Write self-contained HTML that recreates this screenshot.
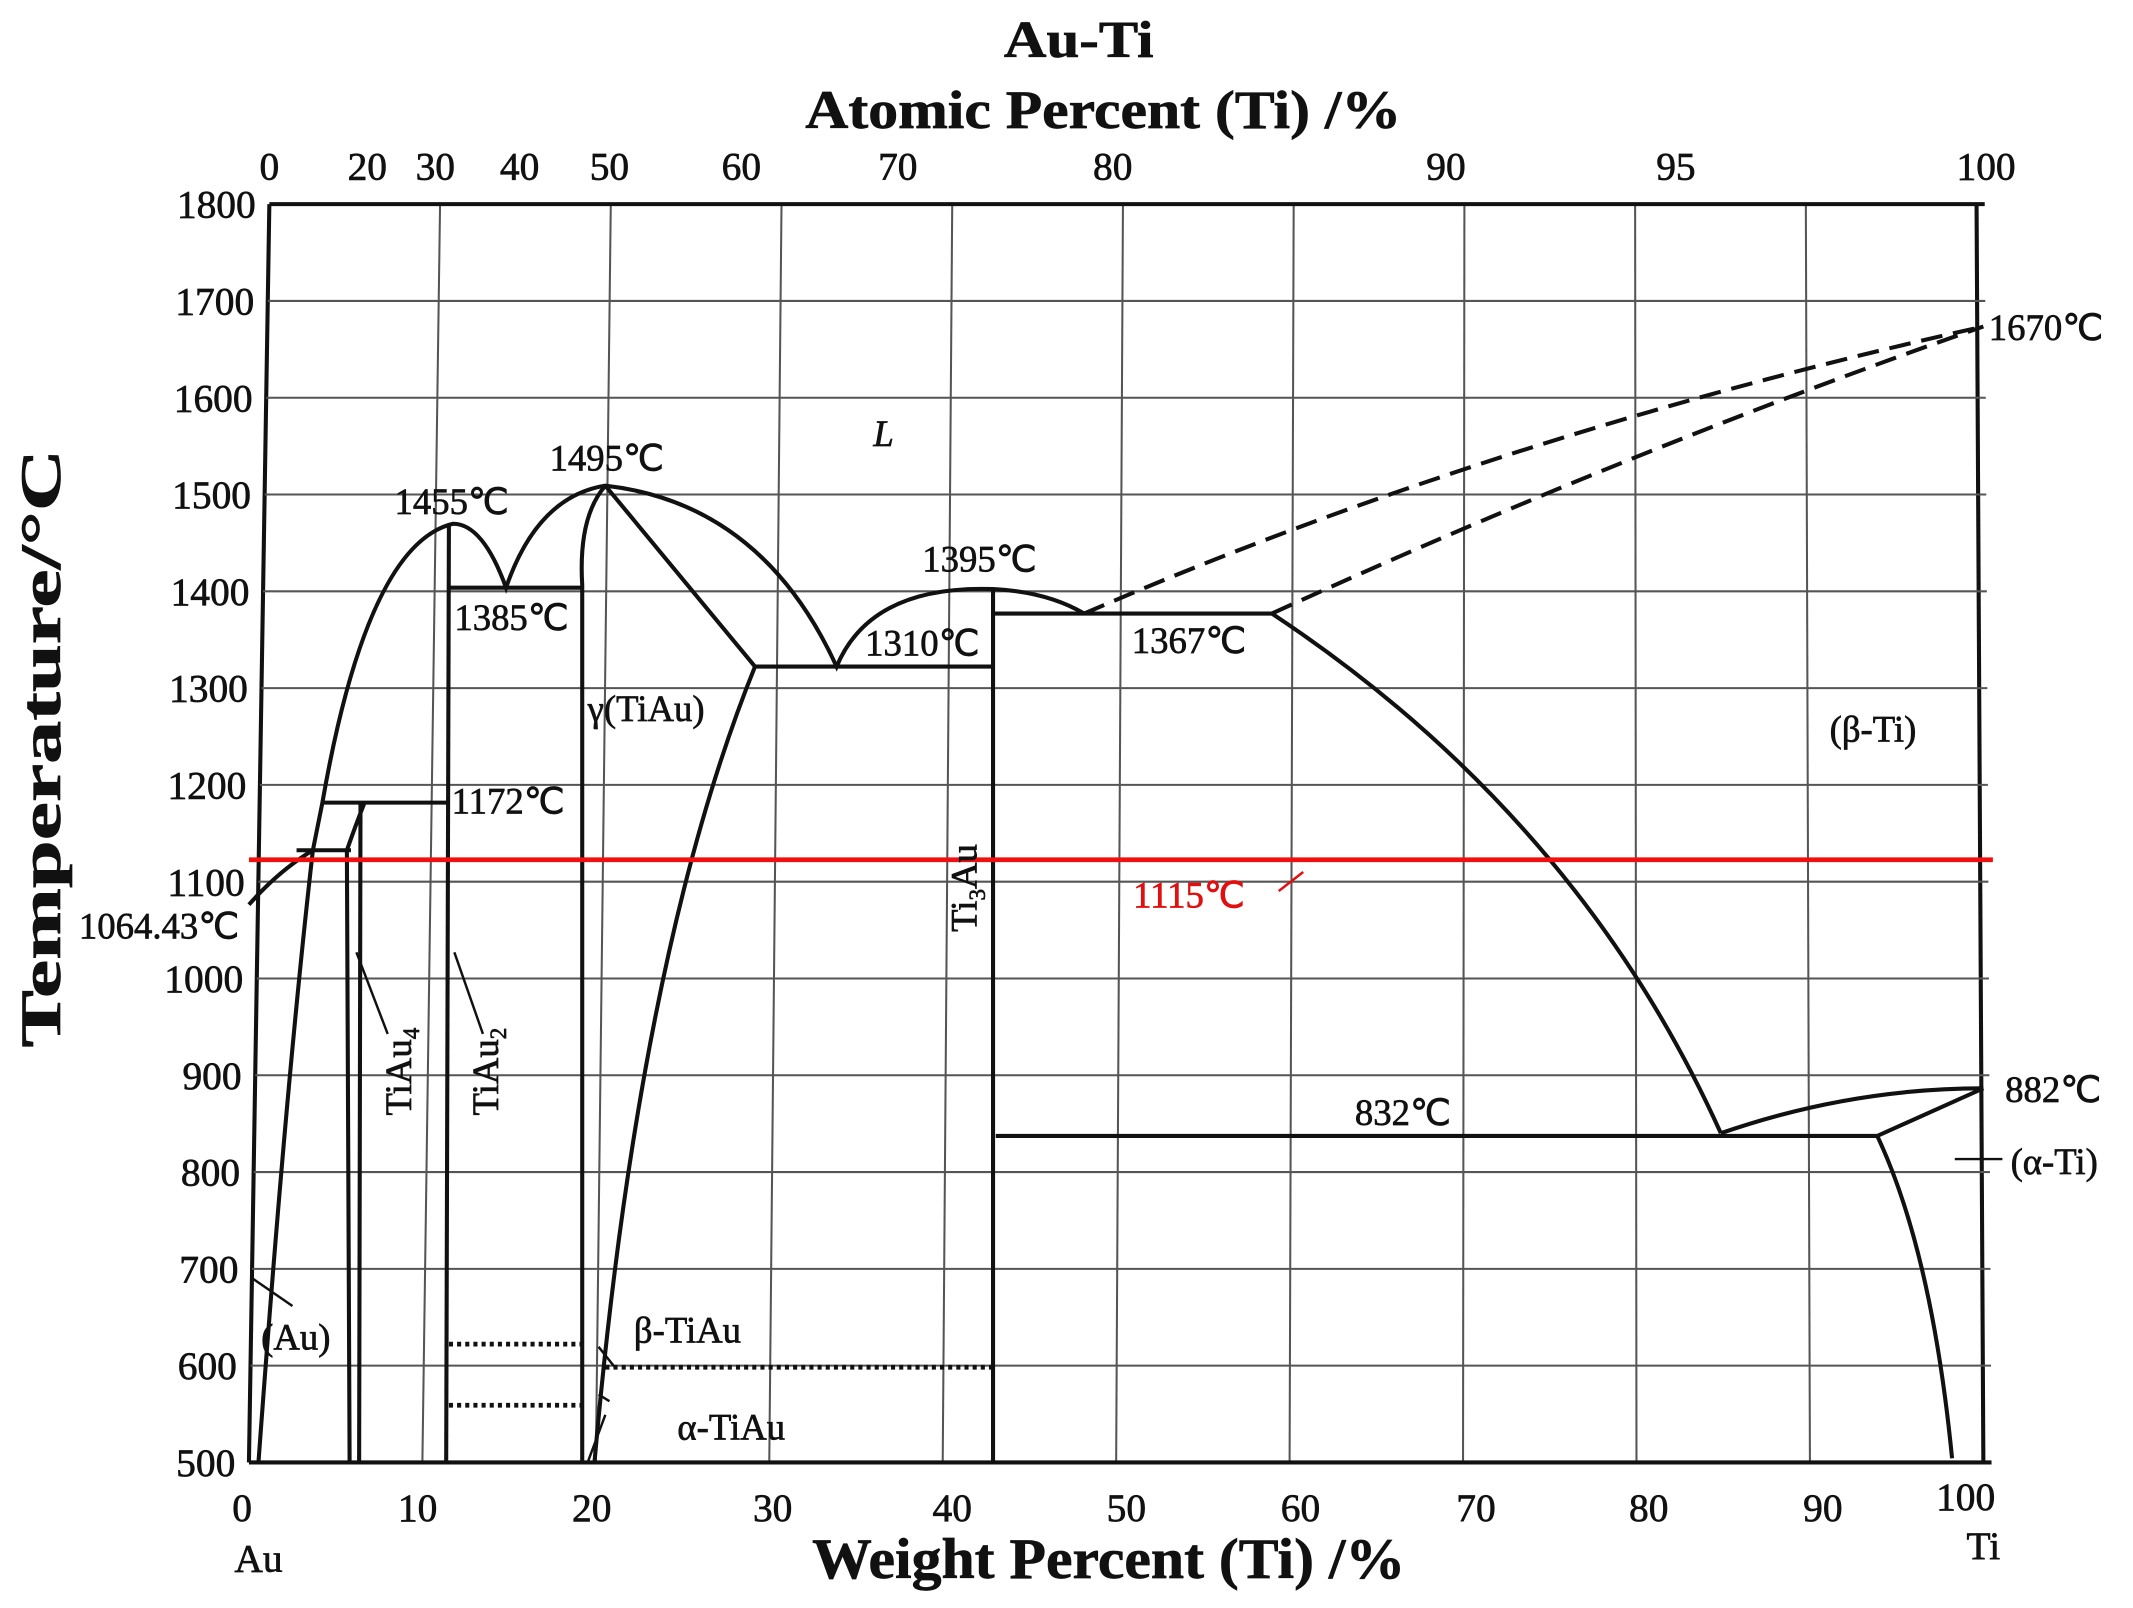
<!DOCTYPE html>
<html><head><meta charset="utf-8">
<style>
html,body{margin:0;padding:0;background:#fff;}
svg{display:block;}
text{font-family:"Liberation Serif",serif;fill:#111;stroke:#111;stroke-width:0.5;}
</style></head>
<body>
<svg id="s" width="2133" height="1608" viewBox="0 0 1568 1182" preserveAspectRatio="none" xmlns="http://www.w3.org/2000/svg">
<rect width="1568" height="1182" fill="#fff"/>
<g id="grid" stroke="#555" stroke-width="1.5" fill="none"></g>
<g id="main" stroke="#111" stroke-width="3" fill="none"></g>
<line x1="183" y1="632" x2="1465" y2="632" stroke="#f01010" stroke-width="3.5"/>
<g font-weight="bold">
<text x="738" y="42" font-size="38" textLength="110" lengthAdjust="spacingAndGlyphs">Au-Ti</text>
<text x="592" y="94" font-size="40" textLength="438" lengthAdjust="spacingAndGlyphs">Atomic Percent (Ti) /%</text>
<text x="597" y="1160" font-size="42" textLength="436" lengthAdjust="spacingAndGlyphs">Weight Percent (Ti) /%</text>
<text transform="translate(44,770) rotate(-90)" font-size="42" textLength="440" lengthAdjust="spacingAndGlyphs">Temperature/°C</text>
</g>
<g font-size="29" text-anchor="middle">
<text x="198" y="132">0</text><text x="270" y="132">20</text><text x="320" y="132">30</text><text x="382" y="132">40</text><text x="448" y="132">50</text><text x="545" y="132">60</text><text x="660" y="132">70</text><text x="818" y="132">80</text><text x="1063" y="132">90</text><text x="1232" y="132">95</text><text x="1460" y="132">100</text>
<text x="178" y="1118">0</text><text x="307" y="1118">10</text><text x="435" y="1118">20</text><text x="568" y="1118">30</text><text x="700" y="1118">40</text><text x="828" y="1118">50</text><text x="956" y="1118">60</text><text x="1085" y="1118">70</text><text x="1212" y="1118">80</text><text x="1340" y="1118">90</text><text x="1445" y="1110">100</text>
<text x="190" y="1155">Au</text><text x="1458" y="1146">Ti</text>
</g>
<g font-size="29" text-anchor="end" id="yl"></g>
<g font-size="27">
<text x="290" y="378">1455℃</text>
<text x="404" y="346">1495℃</text>
<text x="334" y="463">1385℃</text>
<text x="678" y="420">1395℃</text>
<text x="636" y="482">1310℃</text>
<text x="832" y="480">1367℃</text>
<text x="332" y="598">1172℃</text>
<text x="58" y="690">1064.43℃</text>
<text x="1462" y="250">1670℃</text>
<text x="1474" y="810">882℃</text>
<text x="996" y="827">832℃</text>
<text x="833" y="667" style="fill:#e01010;stroke:#e01010">1115℃</text>
<text x="432" y="530">γ(TiAu)</text>
<text x="1345" y="545">(β-Ti)</text>
<text x="1478" y="863">(α-Ti)</text>
<text x="192" y="992">(Au)</text>
<text x="466" y="987">β-TiAu</text>
<text x="498" y="1058">α-TiAu</text>
<text x="642" y="328" font-style="italic">L</text>
<text transform="translate(302,820) rotate(-90)">TiAu<tspan font-size="17" dy="6">4</tspan></text>
<text transform="translate(366,820) rotate(-90)">TiAu<tspan font-size="17" dy="6">2</tspan></text>
<text transform="translate(718,685) rotate(-90)">Ti<tspan font-size="17" dy="6">3</tspan><tspan dy="-6">Au</tspan></text>
</g>
</svg>
<script>
const NS="http://www.w3.org/2000/svg";
function X(w,T){const t=(T-500)/1300;const xl=183+15*t,xr=1458-5*t;return xl+(xr-xl)*w/100;}
function Y(T){return 1075-(T-500)*0.7115;}
function el(g,tag,a){const e=document.createElementNS(NS,tag);for(const k in a)e.setAttribute(k,a[k]);document.getElementById(g).appendChild(e);return e;}
for(let w=0;w<=100;w+=10)el("grid","line",{x1:X(w,500),y1:Y(500),x2:X(w,1800),y2:Y(1800),"stroke-width":(w==0||w==100)?3:1.5,stroke:(w==0||w==100)?"#111":"#555"});
for(let T=500;T<=1800;T+=100){el("grid","line",{x1:X(0,T),y1:Y(T),x2:X(100,T)+6,y2:Y(T),"stroke-width":(T==500||T==1800)?3:1.5,stroke:(T==500||T==1800)?"#111":"#555"});
 const t=document.createElementNS(NS,"text");t.setAttribute("x",X(0,T)-10);t.setAttribute("y",Y(T)+10);t.textContent=T;document.getElementById("yl").appendChild(t);}
const P=[
"M183,665 Q205,640 230,625",
"M230,625 Q210,800 190,1075",
"M218,625 L258,625",
"M230,625 L237,590 L330,590",
"M237,590 Q270,400 333,385 Q355,385 372,432 Q395,365 445,357 Q560,370 615,490 Q640,430 730,433 Q770,435 797,451",
"M372,432 L333,432 M330,432 L428,432",
"M255,625 L257,1075 M265,590 L264,1075 M255,625 Q262,605 268,590",
"M330,385 L328,1075",
"M445,357 Q425,380 428,430 L428,1075",
"M445,357 L555,490 L730,490",
"M555,490 Q470,700 437,1075",
"M730,433 L730,1075",
"M730,451 L935,451",
"M935,451 Q1160,600 1265,833",
"M732,835 L1380,835",
"M1265,833 Q1360,800 1458,800",
"M1380,835 L1458,800",
"M1380,835 Q1420,920 1435,1072",
"M262,700 L285,760 M334,700 L355,760",
"M186,940 L215,960",
"M440,990 L452,1005 M440,1025 L448,1030 M432,1075 L445,1040",
"M1437,852 L1472,852",
"M940,655 L958,641"
];
P.forEach((d,i)=>el("main","path",{d:d,"stroke-width":i>=18?1.8:3,stroke:i==22?"#e01010":"#111"}));
el("main","path",{d:"M797,451 Q1100,320 1458,240","stroke-dasharray":"16,8"});
el("main","path",{d:"M935,451 Q1200,330 1458,240","stroke-dasharray":"16,8"});
[["330","428",988],["330","428",1033],["445","730",1005]].forEach(a=>el("main","line",{x1:a[0],x2:a[1],y1:a[2],y2:a[2],"stroke-dasharray":"3,3","stroke-width":3.5}));
</script>
</body></html>
